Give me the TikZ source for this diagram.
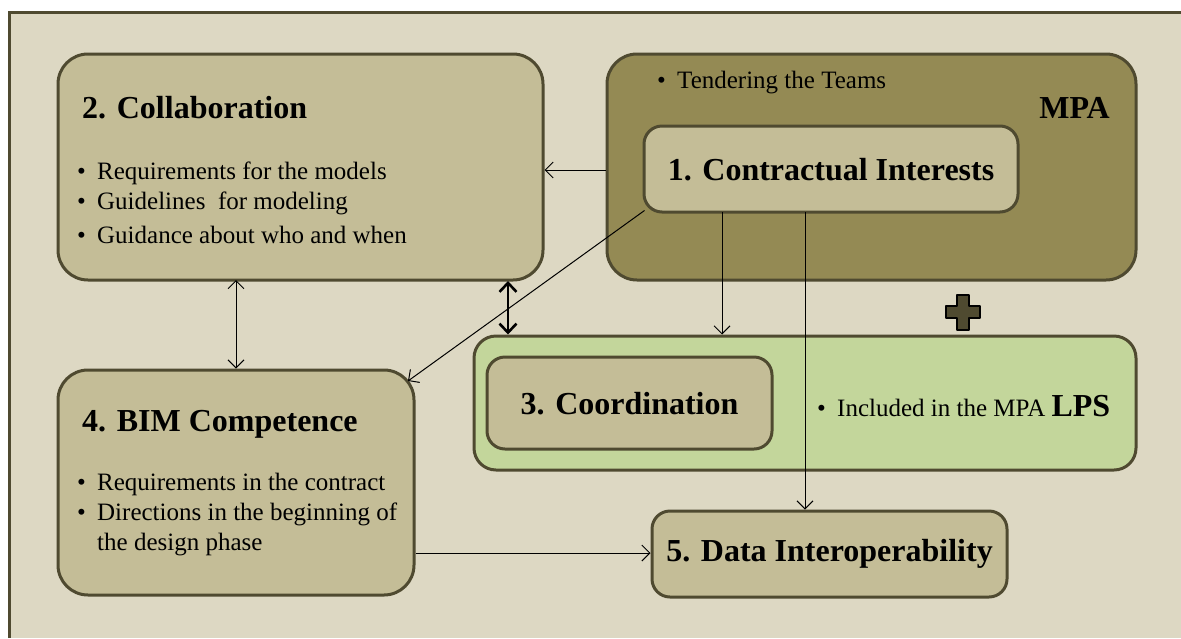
\documentclass[tikz,border=0pt]{standalone}
\usepackage{fontspec}
\setmainfont{Liberation Serif}
\usetikzlibrary{arrows.meta}
\definecolor{bgc}{HTML}{DDD8C3}
\definecolor{boxc}{HTML}{C4BD97}
\definecolor{mpac}{HTML}{948A54}
\definecolor{lpsc}{HTML}{C3D69B}
\definecolor{edgec}{HTML}{4F4A30}
\definecolor{plusc}{HTML}{4F4A30}
\tikzset{
  box/.style={draw=edgec, line width=3pt, rounded corners=#1, inner sep=0pt},
  box/.default=30pt,
  title/.style={font=\fontsize{32}{36}\selectfont\bfseries, inner sep=0pt},
  btext/.style={font=\fontsize{25}{29}\selectfont, anchor=west, inner sep=0pt},
  tip/.tip={Straight Barb[length=8pt,width=16pt,line width=1pt]},
  conn/.style={line width=1pt, -tip},
  dconn/.style={line width=1pt, tip-tip},
  thick2/.style={line width=2.6pt, {Straight Barb[length=9pt,width=17pt]}-{Straight Barb[length=9pt,width=17pt]}},
}
\newcommand{\bul}{\makebox[20pt][l]{\textbullet}}
\begin{document}
\begin{tikzpicture}[x=1pt,y=-1pt]
\useasboundingbox (0,0) rectangle (1181,638);
\fill[white] (0,0) rectangle (1181,638);
\fill[bgc] (9,12) rectangle (1181,638);
\draw[edgec, line width=3pt] (9,638) -- (9,12) -- (1181,12);

% boxes
\node[box, fill=boxc, minimum width=485pt, minimum height=226pt] (b2) at (300.5,167) {};
\node[box, fill=mpac, minimum width=529pt, minimum height=226pt] (mpa) at (871.5,167) {};
\node[box=18pt, fill=boxc, minimum width=374pt, minimum height=86pt] (b1) at (831,169) {};
\node[box=22pt, fill=lpsc, minimum width=662pt, minimum height=134pt] (lps) at (805,403) {};
\node[box=18pt, fill=boxc, minimum width=285pt, minimum height=92pt] (b3) at (629.5,403) {};
\node[box, fill=boxc, minimum width=356pt, minimum height=225pt] (b4) at (236,482.5) {};
\node[box=18pt, fill=boxc, minimum width=355pt, minimum height=86pt] (b5) at (829.5,554) {};

% plus sign
\node[inner sep=0pt] (plus) at (963,312) {};
\fill[plusc, draw=black, line width=2.8pt, line join=round]
  (957,295) -- (969,295) -- (969,306) -- (980,306) -- (980,318) -- (969,318) -- (969,330)
  -- (957,330) -- (957,318) -- (946,318) -- (946,306) -- (957,306) -- cycle;

% texts
\node[title, anchor=west] (t2) at (82,108) {2. Collaboration};
\node[btext] (l21) at (77,173) {\bul Requirements for the models};
\node[btext] (l22) at (77,203) {\bul Guidelines\ \ for modeling};
\node[btext] (l23) at (77,235) {\bul Guidance about who and when};

\node[btext] (tt) at (657,83) {\bul Tendering the Teams};
\node[title, anchor=east] (tmpa) at (1110,108) {MPA};
\node[title] (t1) at (831,170) {1. Contractual Interests};
\node[title] (t3) at (629.5,404) {3. Coordination};
\node[btext] (tl) at (817,406) {\bul Included in the MPA \textbf{\fontsize{32}{36}\selectfont LPS}};

\node[title, anchor=west] (t4) at (82,424) {4. BIM Competence};
\node[btext] (l41) at (77,484) {\bul Requirements in the contract};
\node[btext] (l42) at (77,514) {\bul Directions in the beginning of};
\node[btext] (l43) at (97,545) {the design phase};
\node[title] (t5) at (829.5,554) {5. Data Interoperability};

% connectors
\draw[conn] (mpa.west |- 0,170) -- (b2.east |- 0,170);
\draw[conn] (b1.south west) ++(2,-3) coordinate (c1) (c1) -- (408,381) coordinate (c2);
\draw[conn] (722,212) coordinate (c3) -- (c3 |- lps.north);
\draw[conn] (805,212) coordinate (c4) -- (c4 |- b5.north);
\draw[dconn] (236,280) coordinate (c5) -- (c5 |- b4.north);
\draw[thick2] (508,281) coordinate (c6) -- (c6 |- lps.north);
\draw[conn] (b4.east |- 0,553) -- (b5.west |- 0,553);
\end{tikzpicture}
\end{document}
